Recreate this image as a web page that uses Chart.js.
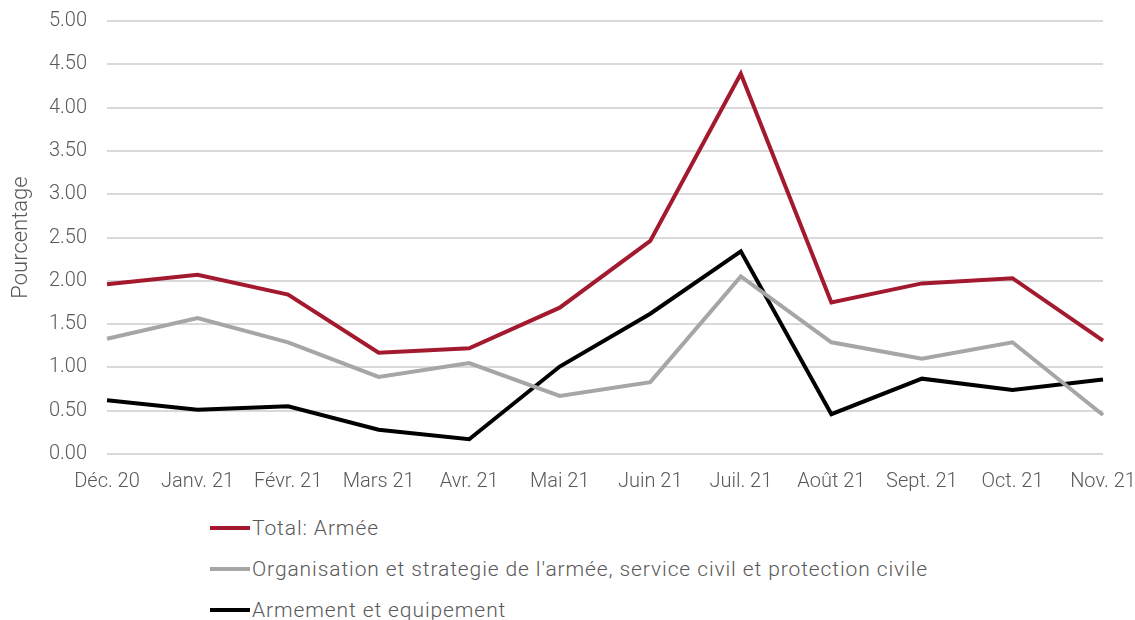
<!DOCTYPE html>
<html>
<head>
<meta charset="utf-8">
<script src="https://cdn.jsdelivr.net/npm/chart.js@4.4.1/dist/chart.umd.min.js"></script>
<style>
  body { margin: 0; background: #fff; width: 1135px; height: 620px; overflow: hidden; font-family: Roboto, sans-serif; }
  #wrap { position: absolute; left: 0; top: 0; width: 1135px; height: 500px; }
  #legend { position: absolute; left: 210px; top: 507px; }
  .item { height: 41px; display: flex; align-items: center; color: #595959; font-size: 21px; font-weight: 300; letter-spacing: 0.9px; font-family: Roboto, sans-serif; }
  .swatch { width: 40px; height: 4px; margin-right: 2px; }
</style>
</head>
<body>
<div id="wrap"><canvas id="chart"></canvas></div>
<div id="legend"></div>
<script>
// Categories (months)
const mois = ['Déc. 20', 'Janv. 21', 'Févr. 21', 'Mars 21', 'Avr. 21', 'Mai 21', 'Juin 21', 'Juil. 21', 'Août 21', 'Sept. 21', 'Oct. 21', 'Nov. 21'];

// Series values (percentages)
const totalArmee = [1.96, 2.07, 1.84, 1.17, 1.22, 1.69, 2.46, 4.39, 1.75, 1.97, 2.03, 1.31];
const organisation = [1.33, 1.57, 1.29, 0.89, 1.05, 0.67, 0.83, 2.05, 1.29, 1.10, 1.29, 0.45];
const armement = [0.62, 0.51, 0.55, 0.28, 0.17, 1.01, 1.62, 2.34, 0.46, 0.87, 0.74, 0.86];

const seriesNames = ['Total: Armée', "Organisation et strategie de l'armée, service civil et protection civile", 'Armement et equipement'];
const seriesColors = ['#a31a2e', '#a6a6a6', '#000000'];

const datasets = [totalArmee, organisation, armement].map((values, i) => ({
    label: seriesNames[i],
    data: values,
    borderColor: seriesColors[i],
    backgroundColor: seriesColors[i],
    borderWidth: 4,
    pointRadius: 0,
    tension: 0,
    fill: false
}));

const tickFont = { family: 'Roboto, sans-serif', size: 20, weight: 300 };

new Chart(document.getElementById('chart').getContext('2d'), {
    type: 'line',
    data: { labels: mois, datasets: datasets },
    options: {
        responsive: true,
        maintainAspectRatio: false,
        animation: false,
        layout: { padding: { top: 21, right: 32, left: 0, bottom: 0 } },
        plugins: {
            legend: { display: false },
            tooltip: { enabled: false }
        },
        scales: {
            x: {
                offset: false,
                grid: { display: false },
                border: { display: false },
                ticks: { color: '#595959', font: tickFont, maxRotation: 0, autoSkip: false, padding: 8 },
                afterFit: function (scale) {
                    scale.height = 46;
                    scale.paddingLeft = 0;
                    scale.paddingRight = 0;
                }
            },
            y: {
                min: 0,
                max: 5,
                ticks: {
                    stepSize: 0.5,
                    color: '#595959',
                    font: tickFont,
                    padding: 20,
                    callback: v => v.toFixed(2)
                },
                grid: { color: '#d9d9d9', lineWidth: 2, drawTicks: false },
                border: { display: false },
                title: {
                    display: true,
                    text: 'Pourcentage',
                    color: '#595959',
                    font: { family: 'Roboto, sans-serif', size: 22, weight: 300 },
                    padding: { top: 8, bottom: 0 }
                },
                afterFit: function (scale) {
                    scale.width = 107;
                    scale.paddingTop = 0;
                    scale.paddingBottom = 0;
                }
            }
        }
    }
});

// HTML legend, stacked vertically like the original
const legend = document.getElementById('legend');
seriesNames.forEach((name, i) => {
    const item = document.createElement('div');
    item.className = 'item';
    const sw = document.createElement('span');
    sw.className = 'swatch';
    sw.style.background = seriesColors[i];
    item.appendChild(sw);
    item.appendChild(document.createTextNode(name));
    legend.appendChild(item);
});
</script>
</body>
</html>
